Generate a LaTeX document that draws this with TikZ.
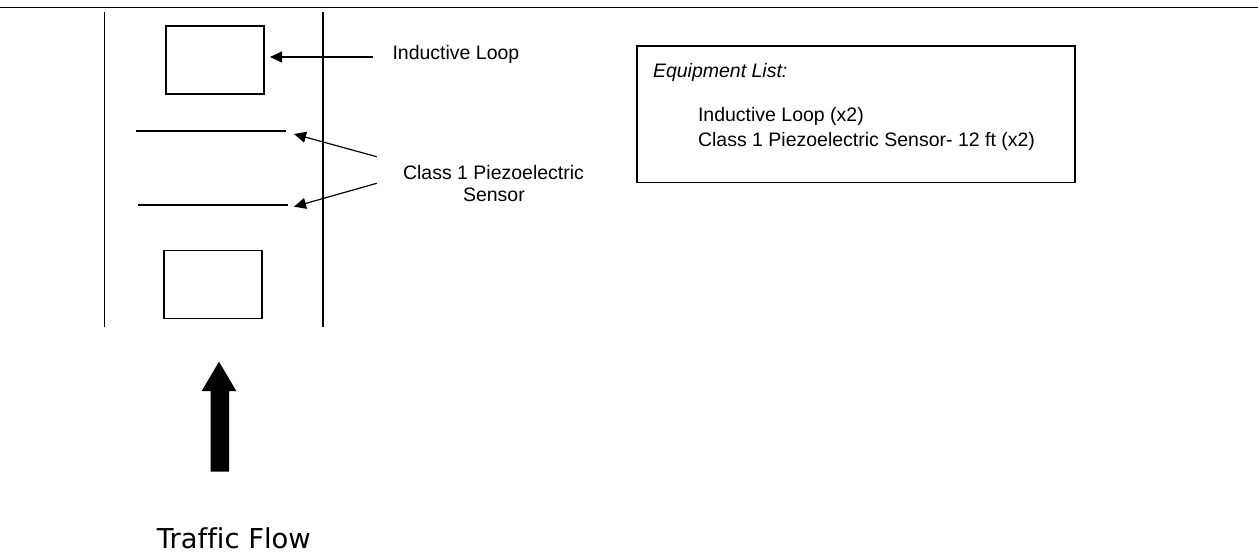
\documentclass[tikz,border=0pt]{standalone}
\usepackage{fontspec}
\setmainfont{Liberation Sans}
\newfontfamily\flowfont[Ligatures=NoCommon]{DejaVu Sans}
\usetikzlibrary{arrows.meta}
\tikzset{
  road/.style={line width=1.8pt, line cap=butt},
  loopbox/.style={draw, line width=1.8pt, minimum width=98pt, minimum height=68pt, inner sep=0pt},
  sensorline/.style={line width=1.8pt},
  pointer/.style={line width=1.2pt, -{Triangle[length=12pt,width=11pt]}},
  lbl/.style={inner sep=0pt, outer sep=0pt, anchor=base west, font=\fontsize{19.5}{23}\selectfont},
  listbox/.style={draw, line width=1.6pt, minimum width=438pt, minimum height=136.5pt, inner sep=0pt},
  flowarrow/.style={fill=black, draw=none}
}
\begin{document}
\begin{tikzpicture}[x=1pt, y=-1pt]
\useasboundingbox (0,0) rectangle (1258,554);
% top rule
\coordinate (topL) at (0,7.5);
\coordinate (topR) at (1258,7.5);
\draw[road] (topL) -- (topR);
% road edges
\coordinate (leftT) at (104.5,11.5);
\coordinate (leftB) at (104.5,326.5);
\coordinate (rightT) at (323.3,11.5);
\coordinate (rightB) at (323.3,326.5);
\draw[road] (leftT) -- (leftB);
\draw[road] (rightT) -- (rightB);
% inductive loops
\node[loopbox] (loopA) at (215,60) {};
\node[loopbox] (loopB) at (213.2,284.5) {};
% piezo sensors
\coordinate (p1a) at (136,131.3);
\coordinate (p1b) at (286,131.3);
\coordinate (p2a) at (138,205);
\coordinate (p2b) at (288,205);
\draw[sensorline] (p1a) -- (p1b);
\draw[sensorline] (p2a) -- (p2b);
% labels
\node[lbl] (loopLbl) at (392.5,59.3) {Inductive Loop};
\node[lbl] (piezoLbl) at (403,179) {Class 1 Piezoelectric};
\node[lbl] (sensorLbl) at (463,201.7) {Sensor};
% pointers
\coordinate (loopFrom) at (373,57);
\coordinate (loopTip) at (270,57);
\draw[pointer] (loopFrom) -- (loopTip);
\coordinate (pz1From) at (376.7,156.7);
\coordinate (pz1Tip) at (294,134);
\coordinate (pz2From) at (376.7,183.3);
\coordinate (pz2Tip) at (294,206.7);
\draw[pointer] (pz1From) -- (pz1Tip);
\draw[pointer] (pz2From) -- (pz2Tip);
% equipment list
\node[listbox] (list) at (855.9,114.4) {};
\node[lbl, font=\fontsize{19.5}{23}\selectfont\itshape] (listHead) at (653,77.3) {Equipment List:};
\node[lbl] (item1) at (698,121.7) {Inductive Loop (x2)};
\node[lbl] (item2) at (698,146) {Class 1 Piezoelectric Sensor- 12 ft (x2)};
% traffic flow arrow
\draw[flowarrow] (210.7,471.7) -- (210.7,391) -- (201.7,391) -- (219,361.7) -- (236.3,391) -- (229,391) -- (229,471.7) -- cycle;
\node[inner sep=0pt, anchor=base west, font=\flowfont\fontsize{27.4}{32}\selectfont] (flowLbl) at (156.7,548) {Traffic Flow};
\end{tikzpicture}
\end{document}
